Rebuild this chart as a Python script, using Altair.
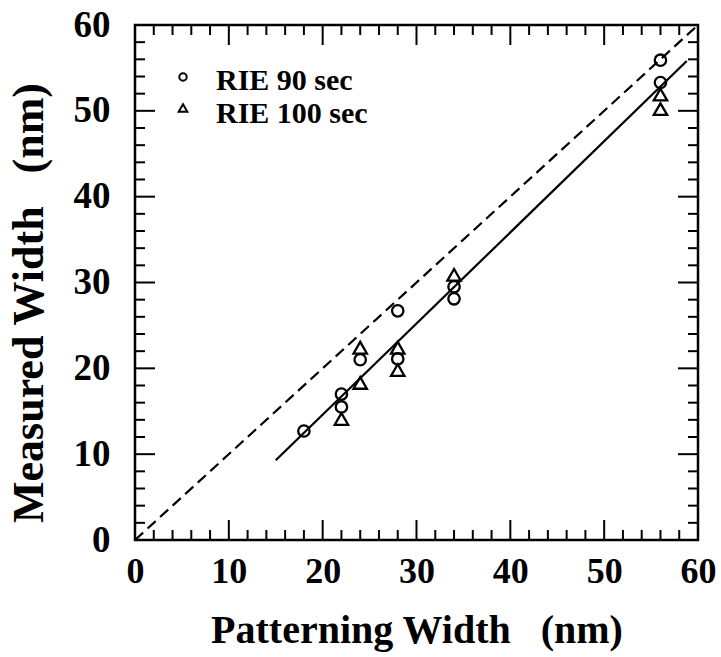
import altair as alt
import pandas as pd

# Measured line widths after RIE etching
rie90_x = [18, 22, 22, 24, 28, 28, 34, 34, 56, 56]
rie90_y = [12.7, 17.0, 15.5, 21.0, 26.7, 21.1, 29.5, 28.1, 55.9, 53.3]
rie100_x = [22, 24, 24, 28, 28, 34, 56, 56]
rie100_y = [14.1, 22.4, 18.3, 22.4, 19.8, 30.9, 51.9, 50.2]

# Reference line (measured = patterned) and fitted line
ideal_x = [0, 60]
ideal_y = [0, 60]
fit_x = [15, 58.8]
fit_y = [9.3, 55.8]

# Axis ticks and labels
major_ticks = [10, 20, 30, 40, 50]
minor_ticks = [2, 4, 6, 8, 12, 14, 16, 18, 22, 24, 26, 28, 32, 34, 36, 38,
               42, 44, 46, 48, 52, 54, 56, 58]
label_values = [0, 10, 20, 30, 40, 50, 60]

legend_labels = ["RIE 90 sec", "RIE 100 sec"]

W, H = 563, 515
LO, HI = 0, 60
FONT = "Liberation Serif"
MAJOR_LEN, MINOR_LEN = 20, 10

xs = alt.Scale(domain=[LO, HI], nice=False, zero=False)
ys = alt.Scale(domain=[LO, HI], nice=False, zero=False)

x_axis = alt.Axis(values=label_values, ticks=False, domain=False, grid=False,
                  labelFont=FONT, labelFontWeight="bold", labelFontSize=36,
                  labelColor="black", labelPadding=14, labelFlush=False,
                  labelOverlap=False, labelBound=False,
                  title="Patterning Width\u00a0\u00a0\u00a0(nm)", titleFont=FONT,
                  titleFontWeight="bold", titleFontSize=40, titleColor="black",
                  titlePadding=21)
y_axis = alt.Axis(values=label_values, ticks=False, domain=False, grid=False,
                  labelFont=FONT, labelFontWeight="bold", labelFontSize=37,
                  labelColor="black", labelPadding=25, labelFlush=False,
                  labelOverlap=False, labelBound=False,
                  title="Measured Width\u00a0\u00a0\u00a0(nm)", titleFont=FONT,
                  titleFontWeight="bold", titleFontSize=44, titleColor="black",
                  titlePadding=22, titleY=H / 2 + 20)


def X(field):
    return alt.X(f"{field}:Q", scale=xs, axis=x_axis)


def Y(field):
    return alt.Y(f"{field}:Q", scale=ys, axis=y_axis)


rie90 = pd.DataFrame({"x": rie90_x, "y": rie90_y})
rie100 = pd.DataFrame({"x": rie100_x, "y": rie100_y})
ideal = pd.DataFrame({"x": ideal_x, "y": ideal_y})
fit = pd.DataFrame({"x": fit_x, "y": fit_y})

# Inward tick segments on the four frame sides (tick length in data units)
seg_rows = []
for group, ln in ((major_ticks, MAJOR_LEN), (minor_ticks, MINOR_LEN)):
    dy = ln * (HI - LO) / H
    dx = ln * (HI - LO) / W
    for t in group:
        seg_rows.append({"x": t, "y": LO, "x2": t, "y2": LO + dy})
        seg_rows.append({"x": t, "y": HI, "x2": t, "y2": HI - dy})
        seg_rows.append({"x": LO, "y": t, "x2": LO + dx, "y2": t})
        seg_rows.append({"x": HI, "y": t, "x2": HI - dx, "y2": t})
segs = pd.DataFrame(seg_rows)

tick_marks = alt.Chart(segs).mark_rule(color="black", strokeWidth=2).encode(
    x=X("x"), y=Y("y"), x2="x2:Q", y2="y2:Q")

ideal_line = alt.Chart(ideal).mark_line(color="black", strokeWidth=2.2,
                                         strokeDash=[11, 6]).encode(
    x=X("x"), y=Y("y"))
fit_line = alt.Chart(fit).mark_line(color="black", strokeWidth=2.2).encode(
    x=X("x"), y=Y("y"))

circles = alt.Chart(rie90).mark_point(shape="circle", filled=False, color="black",
                                      strokeWidth=2.3, size=130, opacity=1).encode(
    x=X("x"), y=Y("y"))
triangles = alt.Chart(rie100).mark_point(shape="triangle-up", filled=False,
                                         color="black", strokeWidth=2.3, size=180,
                                         opacity=1).encode(
    x=X("x"), y=Y("y"))

# Legend inside the plot area
leg_c = alt.Chart(pd.DataFrame({"k": [0]})).mark_point(
    shape="circle", filled=False, color="black", strokeWidth=2, size=55, opacity=1
).encode(x=alt.value(48), y=alt.value(52))
leg_t = alt.Chart(pd.DataFrame({"k": [0]})).mark_point(
    shape="triangle-up", filled=False, color="black", strokeWidth=2, size=75, opacity=1
).encode(x=alt.value(48), y=alt.value(83))
leg_txt1 = alt.Chart(pd.DataFrame({"t": [legend_labels[0]]})).mark_text(
    align="left", baseline="middle", font=FONT, fontWeight="bold", fontSize=30,
    color="black").encode(x=alt.value(81), y=alt.value(56), text="t:N")
leg_txt2 = alt.Chart(pd.DataFrame({"t": [legend_labels[1]]})).mark_text(
    align="left", baseline="middle", font=FONT, fontWeight="bold", fontSize=30,
    color="black").encode(x=alt.value(81), y=alt.value(89), text="t:N")

chart = alt.layer(
    ideal_line, fit_line, circles, triangles, tick_marks,
    leg_c, leg_t, leg_txt1, leg_txt2,
).properties(
    width=W, height=H,
    autosize=alt.AutoSizeParams(type="none"),
    padding={"left": 135, "top": 25, "right": 23, "bottom": 117},
    background="white",
).configure_view(stroke="black", strokeWidth=2.5)

chart.save("out.html", embed_options={"renderer": "svg", "actions": False})
